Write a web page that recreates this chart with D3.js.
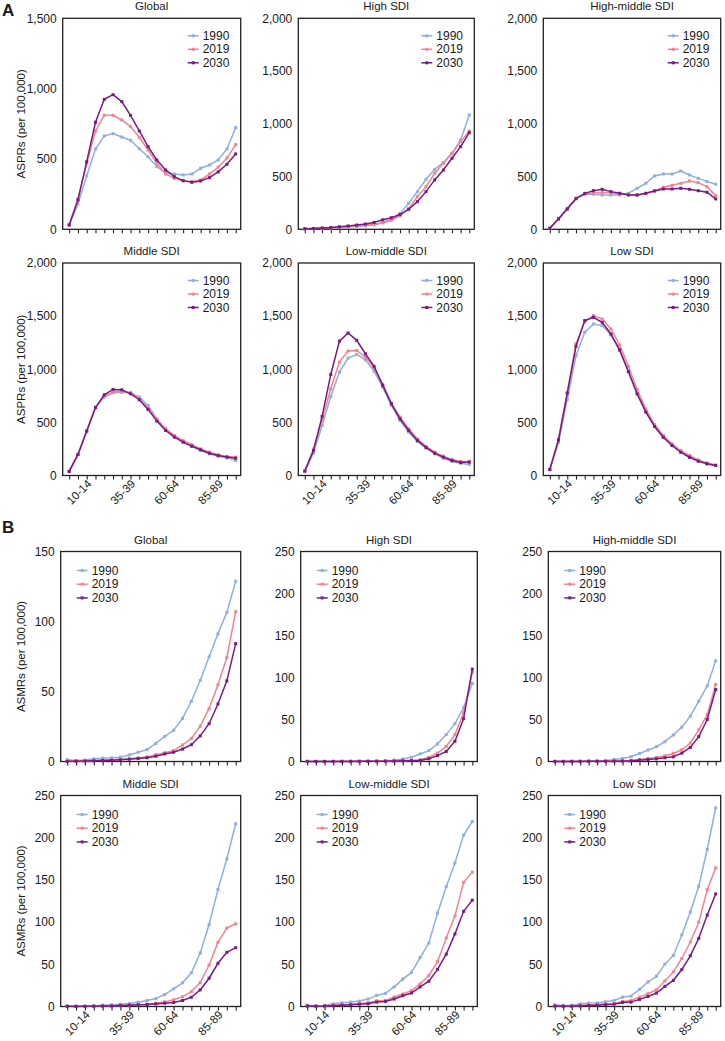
<!DOCTYPE html>
<html>
<head>
<meta charset="utf-8">
<script src="https://cdn.jsdelivr.net/npm/d3@7"></script>
<style>
  html, body { margin: 0; padding: 0; background: #fff; }
  svg { display: block; }
  text { font-family: "Liberation Sans", Arial, sans-serif; fill: #1a1a1a; }
</style>
</head>
<body>
<svg id="chart" width="725" height="1041"></svg>
<script>
// ---------- DATA ----------
const ageGroups = ["<5","5-9","10-14","15-19","20-24","25-29","30-34","35-39","40-44","45-49",
  "50-54","55-59","60-64","65-69","70-74","75-79","80-84","85-89","90-94","95+"];
const labeledAges = ["10-14","35-39","60-64","85-89"];
const years = ["1990","2019","2030"];
const panelTitles = ["Global","High SDI","High-middle SDI","Middle SDI","Low-middle SDI","Low SDI"];

// A: ASPRs (per 100,000)
const asprGlobal1990 = [31,180,381,571,663,680,656,633,573,516,445,403,393,386,393,434,457,493,571,723];
const asprGlobal2019 = [31,218,469,699,810,810,777,730,654,564,469,393,362,344,339,351,393,441,507,602];
const asprGlobal2030 = [31,209,481,761,924,957,908,810,699,588,493,422,374,346,334,344,367,408,462,536];

const asprHigh1990 = [5,7,10,13,17,22,27,33,42,65,95,150,246,357,474,569,632,720,847,1084];
const asprHigh2019 = [5,7,10,14,20,26,33,40,48,60,85,130,195,310,404,531,626,720,831,932];
const asprHigh2030 = [5,8,12,17,24,32,40,50,65,90,110,140,190,262,357,468,562,673,784,916];

const asprHighMid1990 = [9,104,199,294,332,332,325,325,325,341,389,436,506,524,524,553,515,483,452,427];
const asprHighMid2019 = [9,100,195,295,332,345,348,345,341,330,325,341,366,398,417,436,458,442,404,319];
const asprHighMid2030 = [9,98,192,290,341,366,379,357,341,325,325,341,363,382,382,389,379,366,351,288];

const asprMiddle1990 = [38,198,418,644,738,779,782,782,738,659,534,440,367,314,273,235,204,182,166,141];
const asprMiddle2019 = [38,198,418,640,744,785,794,776,722,634,524,440,377,330,289,251,220,195,179,173];
const asprMiddle2030 = [38,198,418,640,760,810,807,769,713,622,512,424,361,314,276,242,210,188,173,163];

const asprLowMid1990 = [41,210,471,744,973,1105,1140,1089,983,832,659,518,408,320,257,204,163,132,116,104];
const asprLowMid2019 = [41,248,524,816,1067,1171,1177,1115,1014,857,681,549,440,345,273,220,182,151,132,132];
const asprLowMid2030 = [41,235,556,951,1265,1341,1272,1146,1027,848,675,534,424,330,264,210,173,141,122,126];

const asprLow1990 = [56,313,715,1128,1348,1426,1411,1323,1176,978,774,605,464,360,282,219,172,135,110,94];
const asprLow2019 = [56,345,784,1238,1448,1505,1473,1379,1229,1028,809,627,480,376,298,235,188,147,119,100];
const asprLow2030 = [56,335,774,1216,1458,1489,1442,1332,1182,978,768,596,461,360,282,219,172,135,110,94];

// B: ASMRs (per 100,000)
const asmrGlobal1990 = [1.2,0.7,1,1.9,2.4,2.6,3.1,4.7,6.6,8.5,12.9,17.9,22.3,30.8,43,57.8,74.8,91.2,106.5,128.8];
const asmrGlobal2019 = [0.2,0.3,0.4,0.7,1,1.3,1.6,2,2.6,3.3,4.9,6.3,7.8,11.8,16.5,25.2,37.9,54.8,74.3,107];
const asmrGlobal2030 = [0.1,0.2,0.3,0.5,0.7,0.9,1.2,1.6,2.1,2.7,3.8,5.4,6.6,8.9,12,18.3,27,41.1,57.6,84.2];

const asmrHigh1990 = [0.3,0.2,0.2,0.3,0.3,0.4,0.4,0.5,0.6,0.8,1.6,3,5,9,13,21,32,45,64,93];
const asmrHigh2019 = [0.1,0.1,0.1,0.1,0.2,0.2,0.2,0.3,0.4,0.5,0.7,1,1.5,2,5,10,18,32,58,106];
const asmrHigh2030 = [0.1,0.1,0.1,0.1,0.1,0.1,0.2,0.2,0.3,0.4,0.5,0.8,1,1.2,3.2,7,12,24,51,110];

const asmrHighMid1990 = [0.3,0.3,0.4,0.5,0.7,0.9,1,2.4,3.6,5.6,9.6,13.6,17.6,23.6,31.6,40.9,54,72,90,119.8];
const asmrHighMid2019 = [0.1,0.1,0.1,0.2,0.2,0.3,0.4,0.5,0.6,1.2,2.4,3.6,4.8,6.8,9.6,14,22,37.7,55.7,91.7];
const asmrHighMid2030 = [0.1,0.1,0.1,0.1,0.2,0.2,0.3,0.4,0.5,0.8,1.6,2.4,3.2,4.4,5.6,10,16.8,29.6,50,85.7];

const asmrMiddle1990 = [0.8,0.4,0.4,0.8,1.6,2,2.8,3.5,5.1,7.1,9.4,14.2,20.9,28,40,63.4,97.2,138.6,175,216.5];
const asmrMiddle2019 = [0.3,0.2,0.2,0.4,0.6,0.8,1.2,1.6,2,2.8,3.9,5.5,7.9,11.4,17.7,28.3,49.2,76,93,98];
const asmrMiddle2030 = [0.2,0.1,0.2,0.3,0.5,0.7,1.2,1.6,2,2.4,3.1,3.9,4.7,7.1,11,19.7,33.5,51.2,64.2,69.7];

const asmrLowMid1990 = [1.6,0.8,1.2,3.2,4.4,5.2,6.4,8.8,13.2,15.6,23.2,32.4,40.4,58,75.2,110.8,142,170,203.2,219.2];
const asmrLowMid2019 = [0.8,0.5,0.8,1.5,2.2,2.8,3.5,4.4,6.8,7.2,11.2,14.8,18.8,26.8,36.8,53.2,81.2,107.2,147.2,159.2];
const asmrLowMid2030 = [0.5,0.3,0.5,1,1.5,2,2.7,3.2,5.2,6,8.8,12.8,16,23.2,30,44,62,86,112.8,126];

const asmrLow1990 = [2,1.2,1.2,3.2,4,4.4,5.6,7.2,11.1,12.3,20.3,29,35.8,50.2,60.5,84.8,111.9,142.5,186.3,235.3];
const asmrLow2019 = [0.8,0.4,0.6,1.2,1.8,2.4,3.2,3.6,6,7.2,11.1,15.1,19.9,30.3,41,56.9,76.4,99.9,138.5,164.4];
const asmrLow2030 = [0.5,0.3,0.4,0.8,1.2,1.6,2.2,2.8,4.8,5.2,8.4,11.9,15.9,23.9,31,43.8,60.1,80.8,108.3,133.4];

const asprYMax = [1500,2000,2000,2000,2000,2000];
const asmrYMax = [150,250,250,250,250,250];

const asprSeries = [
  [asprGlobal1990, asprGlobal2019, asprGlobal2030],
  [asprHigh1990, asprHigh2019, asprHigh2030],
  [asprHighMid1990, asprHighMid2019, asprHighMid2030],
  [asprMiddle1990, asprMiddle2019, asprMiddle2030],
  [asprLowMid1990, asprLowMid2019, asprLowMid2030],
  [asprLow1990, asprLow2019, asprLow2030]
];
const asmrSeries = [
  [asmrGlobal1990, asmrGlobal2019, asmrGlobal2030],
  [asmrHigh1990, asmrHigh2019, asmrHigh2030],
  [asmrHighMid1990, asmrHighMid2019, asmrHighMid2030],
  [asmrMiddle1990, asmrMiddle2019, asmrMiddle2030],
  [asmrLowMid1990, asmrLowMid2019, asmrLowMid2030],
  [asmrLow1990, asmrLow2019, asmrLow2030]
];

// ---------- STYLE / LAYOUT ----------
const colors = ["#8fb0db", "#f3838f", "#7a1a82"];
const svg = d3.select("#chart");

const sections = [
  { key: "A", label: "A", labelY: 16, yLabel: "ASPRs (per 100,000)", yMax: asprYMax, series: asprSeries,
    tickStep: 500, legend: "right",
    cols: [[62.7,240.7],[298.3,474.3],[543.3,720.7]],
    rows: [[18.3,229.3],[263,475.5]] },
  { key: "B", label: "B", labelY: 533, yLabel: "ASMRs (per 100,000)", yMax: asmrYMax, series: asmrSeries,
    tickStep: 50, legend: "left",
    cols: [[60.7,240.7],[300.7,477.3],[548.3,720.7]],
    rows: [[551.5,761.5],[795.5,1006.5]] }
];

sections.forEach(sec => {
  svg.append("text")
    .attr("x", 2).attr("y", sec.labelY)
    .style("font-size", "17px").style("font-weight", "bold")
    .text(sec.label);

  for (let p = 0; p < 6; p++) {
    const r = Math.floor(p / 3), c = p % 3;
    const [x0, x1] = sec.cols[c];
    const [y0, y1] = sec.rows[r];
    const g = svg.append("g");

    const x = d3.scalePoint().domain(ageGroups).range([x0 + 6.5, x1 - 5]);
    const y = d3.scaleLinear().domain([0, sec.yMax[p]]).range([y1, y0]);

    // title
    g.append("text")
      .attr("x", (x0 + x1) / 2).attr("y", y0 - 8)
      .attr("text-anchor", "middle")
      .style("font-size", "11.5px")
      .text(panelTitles[p]);

    // y axis
    const yAxis = d3.axisLeft(y)
      .tickValues(d3.range(0, sec.yMax[p] + 0.001, sec.tickStep))
      .tickFormat(d3.format(","))
      .tickSize(0).tickPadding(6);
    const ya = g.append("g").attr("transform", `translate(${x0},0)`).call(yAxis);
    ya.select(".domain").remove();
    ya.selectAll("text").style("font-size", "12px").style("font-family", "'Liberation Sans', Arial, sans-serif").attr("fill", "#1a1a1a");

    // x axis
    const xAxis = d3.axisBottom(x)
      .tickSize(4).tickSizeOuter(0)
      .tickFormat(d => (r === 1 && labeledAges.includes(d)) ? d : "");
    const xa = g.append("g").attr("transform", `translate(0,${y1})`).call(xAxis);
    xa.select(".domain").remove();
    xa.selectAll(".tick line").attr("stroke", "#222").attr("stroke-width", 1.1);
    xa.selectAll("text")
      .style("font-size", "11.5px").style("font-family", "'Liberation Sans', Arial, sans-serif")
      .attr("fill", "#1a1a1a")
      .attr("text-anchor", "end")
      .attr("dx", 0).attr("dy", 0)
      .attr("transform", "translate(5,9) rotate(-45)")
      .attr("y", 0).attr("x", 0);

    // frame
    g.append("rect")
      .attr("x", x0).attr("y", y0).attr("width", x1 - x0).attr("height", y1 - y0)
      .attr("fill", "none").attr("stroke", "#222").attr("stroke-width", 1.3);

    // y label only for first column
    if (c === 0) {
      g.append("text")
        .attr("transform", `translate(${25},${(y0 + y1) / 2}) rotate(-90)`)
        .attr("text-anchor", "middle")
        .style("font-size", "11.5px")
        .text(sec.yLabel);
    }

    // lines
    const line = d3.line().x((d, i) => x(ageGroups[i])).y(d => y(d));
    sec.series[p].forEach((vals, s) => {
      g.append("path").datum(vals)
        .attr("d", line)
        .attr("fill", "none").attr("stroke", colors[s]).attr("stroke-width", 1.5);
      g.selectAll(null).data(vals).enter().append("rect")
        .attr("x", (d, i) => x(ageGroups[i]) - 1.5)
        .attr("y", d => y(d) - 1.5)
        .attr("width", 3).attr("height", 3)
        .attr("fill", colors[s]);
    });

    // legend
    years.forEach((yr, s) => {
      let lx, ly;
      if (sec.legend === "right") { lx = x1 - 53; ly = y0 + 17.5 + s * 13.5; }
      else { lx = x0 + 16; ly = y0 + 19 + s * 13.7; }
      g.append("line").attr("x1", lx).attr("x2", lx + 11).attr("y1", ly).attr("y2", ly)
        .attr("stroke", colors[s]).attr("stroke-width", 1.5);
      g.append("rect").attr("x", lx + 5.5 - 1.5).attr("y", ly - 1.5).attr("width", 3).attr("height", 3)
        .attr("fill", colors[s]);
      g.append("text").attr("x", lx + 15).attr("y", ly + 4)
        .style("font-size", "12px").text(yr);
    });
  }
});
</script>
</body>
</html>
